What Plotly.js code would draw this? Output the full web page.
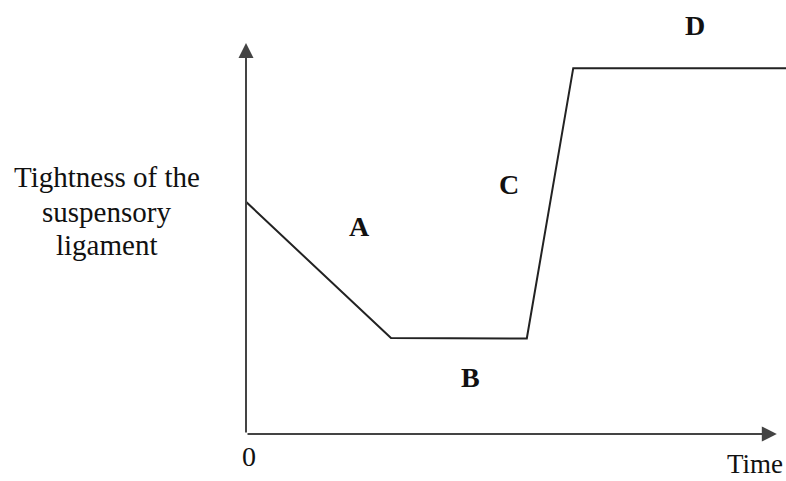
<!DOCTYPE html>
<html>
<head>
<meta charset="utf-8">
<script src="https://cdn.plot.ly/plotly-3.0.1.min.js"></script>
<style>html,body{margin:0;padding:0;background:#fff;}#chart{width:786px;height:481px;}</style>
</head>
<body>
<div id="chart"></div>
<script>
// Time (arbitrary units, 0-100) and tightness of the suspensory ligament (arbitrary units, 0-100)
var time = [0, 26.85, 52.0, 60.6, 100];
var tightness = [53.5, 22.1, 22.0, 84.3, 84.3];
var stageLabels = ['A', 'B', 'C', 'D'];
var yTitleLines = ['Tightness of the', 'suspensory', 'ligament'];
var originLabel = '0';
var xTitle = 'Time';

var serif = 'Liberation Serif, Times New Roman, serif';
var ink = '#222';

var trace = {
  x: time, y: tightness, mode: 'lines', type: 'scatter',
  line: {color: ink, width: 2}, hoverinfo: 'skip', cliponaxis: false
};

var stagePos = [[21.1, 47.9], [41.5, 13.1], [48.7, 57.6], [83.1, 94.2]];
var ann = [];
stageLabels.forEach(function (t, i) {
  ann.push({x: stagePos[i][0], y: stagePos[i][1], xref: 'x', yref: 'y', text: '<b>' + t + '</b>',
    showarrow: false, xanchor: 'center', yanchor: 'middle', font: {family: serif, size: 28, color: '#111'}});
});
var yLineY = [0.592, 0.5115, 0.4355];
yTitleLines.forEach(function (t, i) {
  ann.push({x: -0.2583, y: yLineY[i], xref: 'paper', yref: 'paper', text: t, showarrow: false,
    xanchor: 'center', yanchor: 'middle', font: {family: serif, size: 29, color: '#111'}});
});
ann.push({x: 0.0056, y: -0.0507, xref: 'paper', yref: 'paper', text: originLabel, showarrow: false,
  xanchor: 'center', yanchor: 'middle', font: {family: serif, size: 28, color: '#111'}});
ann.push({x: 0.998, y: -0.1083, xref: 'paper', yref: 'paper', text: xTitle, showarrow: false,
  xanchor: 'right', yanchor: 'bottom', font: {family: serif, size: 27, color: '#111'}});
// axis arrows
ann.push({x: 0, y: 90.1, ax: 0, ay: 0, xref: 'x', yref: 'y', axref: 'x', ayref: 'y', text: '',
  showarrow: true, arrowhead: 2, arrowsize: 1.5, arrowwidth: 2, arrowcolor: '#444', standoff: 0, startstandoff: 0});
ann.push({x: 98.3, y: 0, ax: 0, ay: 0, xref: 'x', yref: 'y', axref: 'x', ayref: 'y', text: '',
  showarrow: true, arrowhead: 2, arrowsize: 1.5, arrowwidth: 2, arrowcolor: '#444', standoff: 0, startstandoff: 0});

var layout = {
  width: 786, height: 481,
  margin: {l: 246, r: 0, t: 0, b: 47, pad: 0},
  paper_bgcolor: '#fff', plot_bgcolor: '#fff',
  showlegend: false,
  xaxis: {range: [0, 100], showgrid: false, zeroline: false, showline: false, showticklabels: false, ticks: '', fixedrange: true},
  yaxis: {range: [0, 100], showgrid: false, zeroline: false, showline: false, showticklabels: false, ticks: '', fixedrange: true},
  annotations: ann
};
Plotly.newPlot('chart', [trace], layout, {staticPlot: true, displayModeBar: false});
</script>
</body>
</html>
